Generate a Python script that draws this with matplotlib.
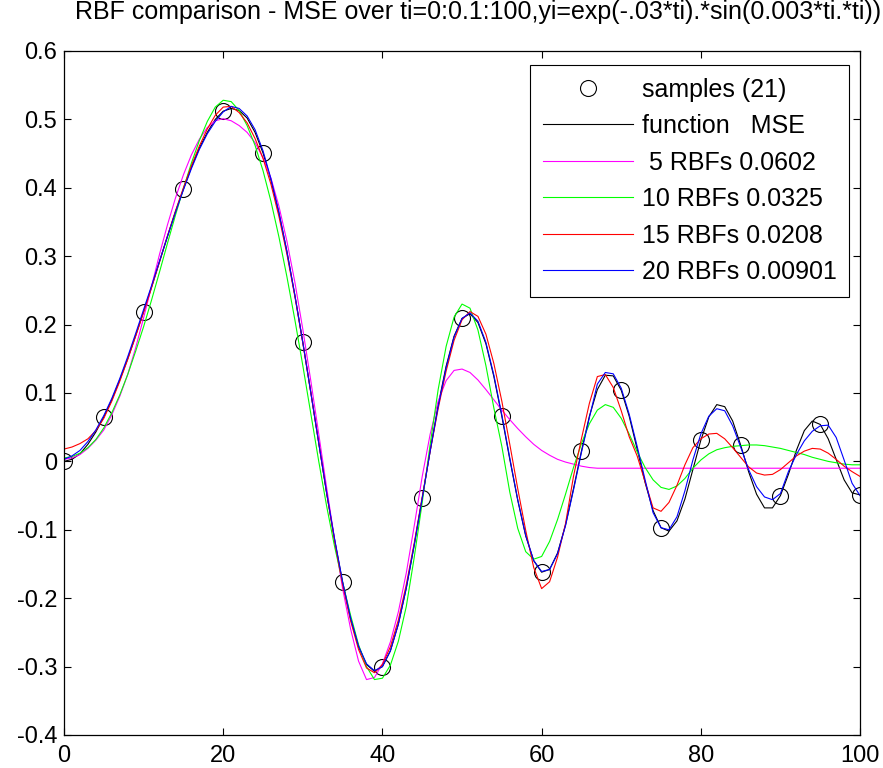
import matplotlib
matplotlib.use("Agg")
import matplotlib.pyplot as plt
import numpy as np

plt.rcParams['font.family'] = ['Liberation Sans', 'DejaVu Sans']
plt.rcParams['axes.unicode_minus'] = False

# grid of the drawn curves
ti = np.arange(0, 101)

# samples (21)
t_samples = [0, 5, 10, 15, 20, 25, 30, 35, 40, 45, 50,
             55, 60, 65, 70, 75, 80, 85, 90, 95, 100]
y_samples = [0.000, 0.065, 0.219, 0.398, 0.512, 0.451, 0.174, -0.177, -0.300, -0.054, 0.209,
             0.066, -0.162, 0.015, 0.104, -0.097, 0.031, 0.024, -0.050, 0.054, -0.049]

# function
y_func = [0.000, 0.003, 0.011, 0.025, 0.043, 0.065, 0.090, 0.119, 0.150, 0.184,
          0.219, 0.255, 0.292, 0.329, 0.365, 0.398, 0.430, 0.458, 0.481, 0.500,
          0.512, 0.516, 0.513, 0.502, 0.481, 0.451, 0.411, 0.363, 0.307, 0.243,
          0.174, 0.101, 0.027, -0.047, -0.115, -0.177, -0.230, -0.271, -0.297, -0.307,
          -0.300, -0.277, -0.238, -0.185, -0.122, -0.054, 0.016, 0.082, 0.139, 0.183,
          0.209, 0.216, 0.203, 0.172, 0.124, 0.066, 0.003, -0.057, -0.109, -0.145,
          -0.162, -0.158, -0.134, -0.093, -0.040, 0.015, 0.066, 0.105, 0.126, 0.125,
          0.104, 0.066, 0.018, -0.031, -0.072, -0.097, -0.102, -0.087, -0.055, -0.012,
          0.031, 0.065, 0.083, 0.080, 0.059, 0.024, -0.015, -0.048, -0.068, -0.068,
          -0.050, -0.019, 0.016, 0.045, 0.059, 0.054, 0.033, 0.003, -0.027, -0.046,
          -0.049]

# 5 RBFs
y_rbf5 = [0.003, 0.005, 0.010, 0.019, 0.031, 0.046, 0.068, 0.095, 0.127, 0.166,
          0.210, 0.256, 0.303, 0.346, 0.385, 0.419, 0.448, 0.471, 0.488, 0.498,
          0.501, 0.498, 0.491, 0.481, 0.466, 0.444, 0.414, 0.373, 0.322, 0.262,
          0.193, 0.118, 0.040, -0.039, -0.115, -0.186, -0.245, -0.292, -0.319, -0.316,
          -0.296, -0.264, -0.220, -0.163, -0.094, -0.022, 0.040, 0.088, 0.118, 0.133,
          0.135, 0.130, 0.119, 0.105, 0.090, 0.075, 0.061, 0.048, 0.036, 0.025,
          0.016, 0.009, 0.003, -0.001, -0.004, -0.007, -0.009, -0.010, -0.010, -0.010,
          -0.010, -0.010, -0.010, -0.010, -0.010, -0.010, -0.010, -0.010, -0.010, -0.010,
          -0.010, -0.010, -0.010, -0.010, -0.010, -0.010, -0.010, -0.010, -0.010, -0.010,
          -0.010, -0.010, -0.010, -0.010, -0.010, -0.010, -0.010, -0.010, -0.010, -0.010,
          -0.010]

# 10 RBFs
y_rbf10 = [0.005, 0.007, 0.012, 0.020, 0.032, 0.049, 0.071, 0.097, 0.127, 0.161,
           0.197, 0.236, 0.277, 0.319, 0.360, 0.399, 0.436, 0.469, 0.497, 0.518,
           0.528, 0.526, 0.513, 0.491, 0.462, 0.425, 0.380, 0.328, 0.270, 0.207,
           0.140, 0.070, 0.000, -0.066, -0.125, -0.177, -0.225, -0.268, -0.300, -0.319,
           -0.317, -0.298, -0.263, -0.212, -0.140, -0.060, 0.025, 0.105, 0.168, 0.211,
           0.230, 0.224, 0.192, 0.140, 0.078, 0.022, -0.045, -0.098, -0.132, -0.143,
           -0.139, -0.117, -0.085, -0.048, -0.009, 0.026, 0.055, 0.075, 0.083, 0.079,
           0.063, 0.040, 0.014, -0.009, -0.027, -0.038, -0.041, -0.036, -0.025, -0.010,
           0.002, 0.011, 0.017, 0.020, 0.022, 0.023, 0.024, 0.024, 0.023, 0.021,
           0.019, 0.016, 0.013, 0.010, 0.006, 0.003, 0.000, -0.002, -0.004, -0.005,
           -0.005]

# 15 RBFs
y_rbf15 = [0.018, 0.021, 0.026, 0.033, 0.045, 0.063, 0.088, 0.117, 0.149, 0.183,
           0.218, 0.254, 0.292, 0.330, 0.366, 0.400, 0.432, 0.461, 0.486, 0.506,
           0.518, 0.519, 0.510, 0.495, 0.472, 0.443, 0.405, 0.358, 0.303, 0.241,
           0.173, 0.101, 0.027, -0.047, -0.117, -0.180, -0.233, -0.275, -0.302, -0.309,
           -0.297, -0.271, -0.232, -0.180, -0.119, -0.052, 0.015, 0.077, 0.132, 0.177,
           0.207, 0.219, 0.212, 0.186, 0.143, 0.088, 0.025, -0.040, -0.101, -0.155,
           -0.186, -0.176, -0.140, -0.091, -0.022, 0.033, 0.085, 0.124, 0.127, 0.108,
           0.074, 0.036, 0.008, -0.030, -0.068, -0.073, -0.060, -0.035, -0.005, 0.020,
           0.033, 0.040, 0.041, 0.033, 0.020, 0.006, -0.008, -0.017, -0.020, -0.019,
           -0.012, -0.002, 0.008, 0.015, 0.019, 0.018, 0.012, 0.003, -0.007, -0.015,
           -0.022]

# 20 RBFs
y_rbf20 = [0.003, 0.008, 0.016, 0.029, 0.046, 0.067, 0.092, 0.121, 0.153, 0.187,
           0.222, 0.257, 0.293, 0.329, 0.364, 0.397, 0.428, 0.456, 0.479, 0.497,
           0.511, 0.519, 0.516, 0.505, 0.485, 0.454, 0.413, 0.364, 0.307, 0.243,
           0.174, 0.101, 0.027, -0.046, -0.114, -0.176, -0.229, -0.270, -0.296, -0.306,
           -0.300, -0.277, -0.238, -0.185, -0.122, -0.054, 0.015, 0.080, 0.137, 0.182,
           0.209, 0.217, 0.205, 0.174, 0.126, 0.068, 0.005, -0.056, -0.108, -0.145,
           -0.161, -0.158, -0.135, -0.094, -0.042, 0.013, 0.064, 0.113, 0.130, 0.128,
           0.107, 0.069, 0.022, -0.027, -0.075, -0.097, -0.100, -0.081, -0.043, 0.002,
           0.040, 0.066, 0.077, 0.074, 0.052, 0.021, -0.012, -0.037, -0.052, -0.056,
           -0.047, -0.015, 0.010, 0.030, 0.044, 0.052, 0.053, 0.035, 0.002, -0.032,
           -0.050]

labels = ['samples (21)', 'function   MSE', ' 5 RBFs 0.0602',
          '10 RBFs 0.0325', '15 RBFs 0.0208', '20 RBFs 0.00901']
colors = ['black', '#ff00ff', '#00ff00', '#ff0000', '#0000ff']

fig = plt.figure(figsize=(8.83, 7.68), dpi=100)
ax = fig.add_axes([0.0725, 0.043, 0.9015, 0.8906])

ax.plot(t_samples, y_samples, 'o', mfc='none', mec='black', ms=11.5, mew=0.8, label=labels[0])
series = [y_func, y_rbf5, y_rbf10, y_rbf15, y_rbf20]
for ys, c, lab in zip(series, colors, labels[1:]):
    ax.plot(ti, ys, color=c, lw=0.8, label=lab)

ax.set_xlim(0, 100)
ax.set_ylim(-0.4, 0.6)
ax.set_xticks([0, 20, 40, 60, 80, 100])
yt = np.round(np.arange(-0.4, 0.61, 0.1), 1) + 0.0
ax.set_yticks(yt)
ax.set_yticklabels(['%g' % (v + 0.0) for v in yt])
ax.tick_params(direction='in', length=5, width=0.8, top=True, right=True, labelsize=17)
ax.tick_params(axis='x', pad=7)
ax.tick_params(axis='y', pad=5)
for s in ax.spines.values():
    s.set_linewidth(0.9)

leg = ax.legend(loc='upper right', bbox_to_anchor=(0.9862, 0.9795), fontsize=18,
                numpoints=1, handlelength=3.6, handletextpad=0.35, labelspacing=0.5,
                borderpad=0.5, borderaxespad=0, fancybox=False, framealpha=1,
                edgecolor='black')
leg.get_frame().set_linewidth(0.8)

fig.text(478 / 883, 1 - 19 / 768,
         'RBF comparison - MSE over ti=0:0.1:100,yi=exp(-.03*ti).*sin(0.003*ti.*ti))',
         ha='center', va='baseline', fontsize=18)

fig.savefig('out.png', dpi=100)
